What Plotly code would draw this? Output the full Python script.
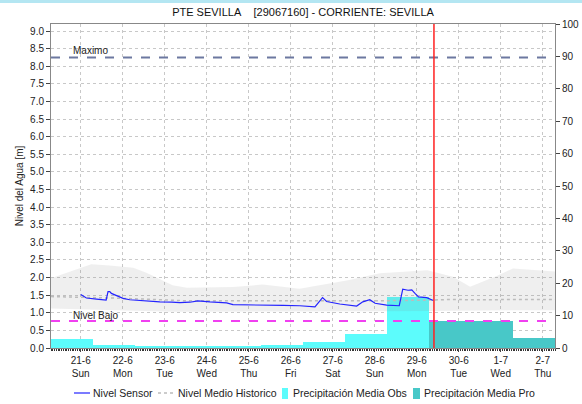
import plotly.graph_objects as go

# ---------------- data ----------------
title_text = "PTE SEVILLA\u00a0\u00a0\u00a0\u00a0[29067160] - CORRIENTE: SEVILLA"

day_ticks = ["2020-06-21", "2020-06-22", "2020-06-23", "2020-06-24", "2020-06-25", "2020-06-26",
             "2020-06-27", "2020-06-28", "2020-06-29", "2020-06-30", "2020-07-01", "2020-07-02"]
day_labels = ["21-6<br>Sun", "22-6<br>Mon", "23-6<br>Tue", "24-6<br>Wed", "25-6<br>Thu", "26-6<br>Fri",
              "27-6<br>Sat", "28-6<br>Sun", "29-6<br>Mon", "30-6<br>Tue", "1-7<br>Wed", "2-7<br>Thu"]

# Nivel Sensor [m]
sensor_t = ["2020-06-21 00:00", "2020-06-21 03:15", "2020-06-21 09:00", "2020-06-21 13:45",
            "2020-06-21 14:30", "2020-06-21 15:35", "2020-06-21 16:35", "2020-06-21 17:30",
            "2020-06-21 21:10", "2020-06-22 00:10", "2020-06-22 04:00", "2020-06-22 11:30",
            "2020-06-22 21:10", "2020-06-23 04:00", "2020-06-23 08:40", "2020-06-23 14:20",
            "2020-06-23 19:00", "2020-06-24 01:50", "2020-06-24 11:20", "2020-06-24 15:00",
            "2020-06-25 02:20", "2020-06-25 08:00", "2020-06-25 19:30", "2020-06-26 05:10",
            "2020-06-26 13:50", "2020-06-26 18:10", "2020-06-26 20:30", "2020-06-27 04:00",
            "2020-06-27 13:40", "2020-06-27 17:10", "2020-06-27 21:10", "2020-06-28 00:10",
            "2020-06-28 06:50", "2020-06-28 14:00", "2020-06-28 16:00", "2020-06-28 19:00",
            "2020-06-28 21:10", "2020-06-28 23:00", "2020-06-29 01:00", "2020-06-29 05:40",
            "2020-06-29 09:30"]
sensor_v = [1.52, 1.42, 1.39, 1.35,
            1.36, 1.60, 1.60, 1.55,
            1.47, 1.41, 1.37, 1.34,
            1.31, 1.30, 1.29, 1.30,
            1.34, 1.31, 1.28, 1.23,
            1.23, 1.22, 1.21, 1.20,
            1.17, 1.43, 1.32, 1.25,
            1.19, 1.31, 1.37, 1.27,
            1.22, 1.20, 1.67, 1.64,
            1.65, 1.55, 1.45, 1.43,
            1.35]

# Historic range band and mean [m]
hist_t = ["2020-06-20 07:00", "2020-06-21 00:00", "2020-06-21 06:00", "2020-06-21 16:30",
          "2020-06-22 06:00", "2020-06-22 13:30", "2020-06-22 21:00", "2020-06-23 04:30",
          "2020-06-23 12:30", "2020-06-24 15:00", "2020-06-25 08:00", "2020-06-26 05:00",
          "2020-06-27 08:00", "2020-06-28 03:00", "2020-06-29 06:00", "2020-06-29 20:40",
          "2020-06-30 06:30", "2020-06-30 22:00", "2020-07-01 07:00", "2020-07-02 07:00"]
hist_max = [1.98, 2.26, 2.38, 2.34,
            2.28, 2.14, 1.97, 1.78,
            1.71, 1.73, 1.80, 1.68,
            1.92, 2.12, 2.21, 2.02,
            1.74, 2.05, 2.26, 2.17]
hist_min = [1.12, 1.10, 1.08, 1.06,
            1.05, 1.04, 1.03, 1.03,
            1.03, 1.03, 1.03, 1.02,
            1.02, 1.04, 1.05, 1.06,
            1.06, 1.07, 1.07, 1.07]
hist_mean = [1.46, 1.45, 1.44, 1.42,
             1.40, 1.38, 1.36, 1.35,
             1.34, 1.34, 1.34, 1.33,
             1.33, 1.34, 1.36, 1.38,
             1.37, 1.37, 1.38, 1.38]

# Daily precipitation [mm] (07:00 to 07:00)
obs_start = ["2020-06-20 07:00", "2020-06-21 07:00", "2020-06-22 07:00", "2020-06-23 07:00",
             "2020-06-24 07:00", "2020-06-25 07:00", "2020-06-26 07:00", "2020-06-27 07:00",
             "2020-06-28 07:00"]
obs_mm = [2.7, 1.0, 0.5, 0.5, 0.5, 1.0, 2.0, 4.4, 15.8]
pro_start = ["2020-06-29 07:00", "2020-06-30 07:00", "2020-07-01 07:00"]
pro_mm = [8.3, 8.3, 3.2]

nivel_maximo = 8.25
nivel_bajo = 0.77
now_time = "2020-06-29 09:50"
x_range = ["2020-06-20 07:00", "2020-07-02 07:00"]

legend_names = ["Nivel Sensor", "Nivel Medio Historico",
                "Precipitación Media Obs", "Precipitación Media Pro"]

# ---------------- styling ----------------
DAY_MS = 86400000
FONT = "Liberation Sans, Arial, sans-serif"
C_SENSOR = "#2424ff"
C_MEAN = "#bcbcbc"
C_OBS = "#5cfcfc"
C_PRO = "#48c8c8"

W, H = 582, 404
ML, MR, MT, MB = 51, 27, 24, 56
PW, PH = W - ML - MR, H - MT - MB


def px(xw):
    return (xw - ML) / PW


def py(yw):
    return (H - MB - yw) / PH


fig = go.Figure()

fig.add_trace(go.Bar(x=obs_start, y=obs_mm, width=[DAY_MS] * len(obs_mm), offset=0,
                     marker=dict(color=C_OBS, line=dict(width=0)),
                     name=legend_names[2], yaxis="y"))
fig.add_trace(go.Bar(x=pro_start, y=pro_mm, width=[DAY_MS] * len(pro_mm), offset=0,
                     marker=dict(color=C_PRO, line=dict(width=0)),
                     name=legend_names[3], yaxis="y"))

fig.add_trace(go.Scatter(x=hist_t, y=hist_min, mode="lines", line=dict(width=0),
                         hoverinfo="skip", yaxis="y2"))
fig.add_trace(go.Scatter(x=hist_t, y=hist_max, mode="lines", line=dict(width=0),
                         fill="tonexty", fillcolor="rgba(128,128,128,0.13)",
                         hoverinfo="skip", yaxis="y2"))
fig.add_trace(go.Scatter(x=hist_t, y=hist_mean, mode="lines",
                         line=dict(color=C_MEAN, width=1.5, dash="dot"),
                         name=legend_names[1], yaxis="y2"))
fig.add_trace(go.Scatter(x=sensor_t, y=sensor_v, mode="lines",
                         line=dict(color=C_SENSOR, width=1.2),
                         name=legend_names[0], yaxis="y2"))

fig.update_layout(
    width=W, height=H,
    margin=dict(l=ML, r=MR, t=MT, b=MB, autoexpand=False),
    paper_bgcolor="white", plot_bgcolor="white",
    font=dict(family=FONT, size=11, color="#222"),
    title=dict(text=title_text, x=0.5, xref="paper", xanchor="center",
               y=1 - 12 / H, yref="container", yanchor="middle",
               font=dict(family=FONT, size=11, color="#111")),
    barmode="overlay", bargap=0,
    showlegend=False,
    xaxis=dict(type="date", range=x_range, tickvals=day_ticks, ticktext=day_labels,
               tickfont=dict(size=10, color="#222"), automargin=False,
               ticks="outside", ticklen=3, tickcolor="#444",
               showgrid=True, gridcolor="#c8c8c8", griddash="dot", gridwidth=1,
               showline=True, linecolor="#888", mirror=True, zeroline=False,
               minor=dict(dtick=3600000, ticks="outside", ticklen=2, tickcolor="#333",
                          showgrid=False)),
    yaxis=dict(side="right", range=[0, 100], dtick=10, ticks="outside", ticklen=4,
               tickcolor="#444", showgrid=False, showline=True, linecolor="#888",
               zeroline=False, automargin=False, tickfont=dict(size=10, color="#222")),
    yaxis2=dict(overlaying="y", side="left", range=[0, 9.2], dtick=0.5, tickformat=".1f",
                ticks="outside", ticklen=4, tickcolor="#444", automargin=False,
                showgrid=True, gridcolor="#c8c8c8", griddash="dot", gridwidth=1,
                showline=True, linecolor="#888", zeroline=False,
                tickfont=dict(size=10, color="#222"),
                title=dict(text="Nivel del Agua [m]", font=dict(size=10, color="#222"),
                           standoff=4)),
)

# reference lines
fig.add_shape(type="line", xref="paper", x0=0, x1=1, yref="y2", y0=nivel_maximo, y1=nivel_maximo,
              line=dict(color="#6c78a0", width=2, dash="dash"))
fig.add_shape(type="line", xref="paper", x0=0, x1=1, yref="y2", y0=nivel_bajo, y1=nivel_bajo,
              line=dict(color="#f040f0", width=2, dash="dash"))
fig.add_shape(type="line", xref="x", x0=now_time, x1=now_time, yref="paper", y0=0, y1=1,
              line=dict(color="#ff2020", width=1.5))
# light-blue strip at the very top of the page
fig.add_shape(type="rect", xref="paper", x0=px(0), x1=px(W), yref="paper", y0=py(3), y1=py(0),
              line=dict(width=0), fillcolor="#b4e6f2", layer="below")

fig.add_annotation(text="Maximo", xref="paper", x=px(71), xanchor="left",
                   yref="y2", y=nivel_maximo, yanchor="bottom", yshift=-1, showarrow=False,
                   font=dict(family=FONT, size=10, color="#222"))
fig.add_annotation(text="Nivel Bajo", xref="paper", x=px(71), xanchor="left",
                   yref="y2", y=nivel_bajo, yanchor="bottom", yshift=-2, showarrow=False,
                   font=dict(family=FONT, size=10, color="#222"))

# ---------------- legend (drawn below plot) ----------------
LY = 393
fig.add_shape(type="line", xref="paper", yref="paper", x0=px(74), x1=px(90), y0=py(LY), y1=py(LY),
              line=dict(color=C_SENSOR, width=1.2))
fig.add_shape(type="line", xref="paper", yref="paper", x0=px(158), x1=px(173), y0=py(LY), y1=py(LY),
              line=dict(color=C_MEAN, width=1.5, dash="dot"))
fig.add_shape(type="rect", xref="paper", yref="paper", x0=px(282), x1=px(288),
              y0=py(399), y1=py(388), line=dict(width=0), fillcolor=C_OBS)
fig.add_shape(type="rect", xref="paper", yref="paper", x0=px(413), x1=px(420),
              y0=py(399), y1=py(388), line=dict(width=0), fillcolor=C_PRO)
for name, xpix in zip(legend_names, [91, 176, 291, 422]):
    fig.add_annotation(text=name, xref="paper", yref="paper", x=px(xpix), y=py(LY),
                       xanchor="left", yanchor="middle", showarrow=False,
                       font=dict(family=FONT, size=10.5, color="#222"))

fig.write_html(
    "out.html",
    config={"displayModeBar": False},
    post_script="document.body.style.margin='0';document.documentElement.style.overflow='hidden';",
)
